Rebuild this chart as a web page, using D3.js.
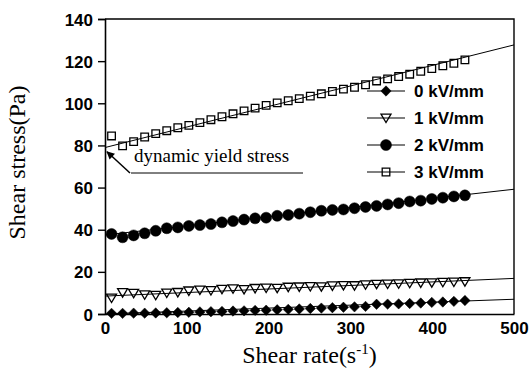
<!DOCTYPE html>
<html>
<head>
<meta charset="utf-8">
<script src="https://cdn.jsdelivr.net/npm/d3@7"></script>
<style>
  body { margin: 0; background: #fff; }
  svg { display: block; }
</style>
</head>
<body>
<div id="chart"></div>
<script>
// shear rate (1/s) of every measured point
const shearRate = [8, 21.5, 35, 48.5, 62, 75.5, 89, 102.5, 116, 129.5, 143, 156.5, 170,
  183.5, 197, 210.5, 224, 237.5, 251, 264.5, 278, 291.5, 305, 318.5, 332, 345.5, 359,
  372.5, 386, 399.5, 413, 426.5, 440];

const stress0kV = [0.3, 0.3, 0.4, 0.4, 0.5, 0.6, 0.7, 0.8, 1.0, 1.1, 1.2, 1.4, 1.5, 1.7,
  1.8, 2.0, 2.2, 2.4, 2.6, 2.8, 3.0, 3.2, 3.4, 3.6, 4.6, 4.7, 4.8, 5.0, 5.2, 5.5, 5.7, 6.0, 6.4];

const stress1kV = [7.6, 10.2, 9.9, 9.2, 8.9, 10.0, 10.3, 11.0, 11.4, 11.2, 11.8, 12.0, 11.7,
  12.2, 12.4, 12.3, 12.8, 12.9, 13.1, 13.0, 13.4, 13.6, 13.5, 13.9, 14.2, 14.3, 14.4, 14.6,
  14.8, 14.9, 15.1, 15.2, 15.4];

const stress2kV = [38.0, 36.4, 37.3, 38.3, 39.5, 40.7, 41.1, 41.8, 42.2, 42.7, 43.5, 44.1,
  44.8, 45.4, 45.7, 46.6, 47.0, 47.6, 48.3, 49.0, 49.4, 49.6, 50.2, 50.8, 51.3, 52.0, 52.6,
  53.4, 53.8, 54.6, 55.2, 55.8, 56.3];

const stress3kV = [84.5, 79.8, 81.8, 84.0, 85.6, 87.0, 88.4, 89.5, 90.8, 92.2, 93.6, 95.0,
  96.4, 97.7, 99.0, 100.2, 101.2, 102.2, 103.4, 104.5, 105.6, 106.7, 107.6, 108.8, 110.6,
  111.6, 112.7, 113.8, 115.2, 116.5, 117.8, 119.0, 120.6];

const seriesNames = ["0 kV/mm", "1 kV/mm", "2 kV/mm", "3 kV/mm"];
const seriesMarkers = ["diamond", "triangleDown", "circle", "square"];

// Bingham fit lines: stress at shear rate 0 and at 500
const fitRates = [0, 500];
const fitStart = [0, 8.5, 37.5, 79];
const fitEnd = [7, 16.9, 59.2, 127.7];

const xTicks = [0, 100, 200, 300, 400, 500];
const yTicks = [0, 20, 40, 60, 80, 100, 120, 140];

const yieldStressNote = "dynamic yield stress";
const yieldStressValue = 77;

const width = 530, height = 376;
const margin = { top: 19, right: 16, bottom: 62, left: 105 };

const svg = d3.select("#chart")
  .append("svg")
  .attr("width", width)
  .attr("height", height);

const x = d3.scaleLinear().domain([0, 500]).range([margin.left, width - margin.right]);
const y = d3.scaleLinear().domain([0, 140]).range([height - margin.bottom, margin.top]);

// marker shapes, centred on 0,0
function markerPath(type) {
  if (type === "diamond") return "M0,-5.2L5.2,0L0,5.2L-5.2,0Z";
  if (type === "triangleDown") return "M-5,-3.8L5,-3.8L0,4.6Z";
  if (type === "square") return "M-3.8,-3.8H3.8V3.8H-3.8Z";
  return d3.symbol(d3.symbolCircle, 95)();
}
const hollow = (type) => type === "triangleDown" || type === "square";

function drawMarker(sel, type) {
  sel.append("path")
    .attr("d", markerPath(type))
    .attr("fill", hollow(type) ? "none" : "#000")
    .attr("stroke", "#000")
    .attr("stroke-width", hollow(type) ? 1.3 : 0.5);
}

const allStress = [stress0kV, stress1kV, stress2kV, stress3kV];

// fit lines
const line = d3.line().x((d) => x(d[0])).y((d) => y(d[1]));
svg.append("g")
  .selectAll("path")
  .data(seriesNames.map((n, i) => [[fitRates[0], fitStart[i]], [fitRates[1], fitEnd[i]]]))
  .join("path")
  .attr("d", line)
  .attr("fill", "none")
  .attr("stroke", "#000")
  .attr("stroke-width", 1);

// points
allStress.forEach((values, i) => {
  svg.append("g")
    .selectAll("g")
    .data(values.map((v, j) => [shearRate[j], v]))
    .join("g")
    .attr("transform", (d) => "translate(" + x(d[0]) + "," + y(d[1]) + ")")
    .each(function () {
      drawMarker(d3.select(this), seriesMarkers[i]);
    });
});

// axes
const tickFont = (g) => g.selectAll("text")
  .attr("font-family", "Liberation Sans, Arial, sans-serif")
  .attr("font-size", 17)
  .attr("font-weight", "bold")
  .attr("fill", "#000");

svg.append("g")
  .attr("transform", "translate(0," + y(0) + ")")
  .call(d3.axisBottom(x).tickValues(xTicks).tickSize(0).tickPadding(8))
  .call((g) => g.select(".domain").attr("stroke-width", 1.6))
  .call(tickFont);

svg.append("g")
  .attr("transform", "translate(" + x(0) + ",0)")
  .call(d3.axisLeft(y).tickValues(yTicks).tickSize(7).tickPadding(5))
  .call((g) => g.select(".domain").attr("stroke-width", 1.6))
  .call((g) => g.selectAll("line").attr("stroke-width", 1.4))
  .call((g) => g.selectAll("text").attr("dy", "0.36em"))
  .call(tickFont);

// frame on top and right
svg.append("path")
  .attr("d", "M" + x(0) + "," + y(140) + "H" + x(500) + "V" + y(0))
  .attr("fill", "none")
  .attr("stroke", "#000")
  .attr("stroke-width", 1.4);

// axis titles
svg.append("text")
  .attr("transform", "translate(25," + (y(70) - 4) + ") rotate(-90)")
  .attr("text-anchor", "middle")
  .attr("font-family", "Liberation Serif, Times New Roman, serif")
  .attr("font-size", 24)
  .text("Shear stress(Pa)");

const xTitle = svg.append("text")
  .attr("x", x(250))
  .attr("y", 363)
  .attr("text-anchor", "middle")
  .attr("font-family", "Liberation Serif, Times New Roman, serif")
  .attr("font-size", 24);
xTitle.append("tspan").text("Shear rate(s");
xTitle.append("tspan").attr("dy", -9).attr("font-size", 15).text("-1");
xTitle.append("tspan").attr("dy", 9).text(")");

// legend
const legend = svg.append("g")
  .selectAll("g")
  .data(seriesNames)
  .join("g")
  .attr("transform", (d, i) => "translate(386," + (91 + i * 27) + ")");

legend.append("line")
  .attr("x1", -19)
  .attr("x2", 19)
  .attr("stroke", "#000")
  .attr("stroke-width", 1.2);

legend.each(function (d, i) {
  drawMarker(d3.select(this), seriesMarkers[i]);
});

legend.append("text")
  .attr("x", 28)
  .attr("dy", "0.36em")
  .attr("font-family", "Liberation Sans, Arial, sans-serif")
  .attr("font-size", 17)
  .attr("font-weight", "bold")
  .text((d) => d);

// yield stress annotation
svg.append("defs")
  .append("marker")
  .attr("id", "arrow")
  .attr("viewBox", "0 0 10 10")
  .attr("refX", 9)
  .attr("refY", 5)
  .attr("markerWidth", 9)
  .attr("markerHeight", 8)
  .attr("markerUnits", "userSpaceOnUse")
  .attr("orient", "auto")
  .append("path")
  .attr("d", "M0,0L10,5L0,10Z");

svg.append("line")
  .attr("x1", 130)
  .attr("y1", 173)
  .attr("x2", x(0) + 2)
  .attr("y2", y(yieldStressValue))
  .attr("stroke", "#000")
  .attr("stroke-width", 1.5)
  .attr("marker-end", "url(#arrow)");

svg.append("line")
  .attr("x1", 131)
  .attr("x2", 303)
  .attr("y1", 173)
  .attr("y2", 173)
  .attr("stroke", "#000")
  .attr("stroke-width", 1);

svg.append("text")
  .attr("x", 134)
  .attr("y", 162)
  .attr("font-family", "Liberation Serif, Times New Roman, serif")
  .attr("font-size", 19)
  .text(yieldStressNote);
</script>
</body>
</html>
